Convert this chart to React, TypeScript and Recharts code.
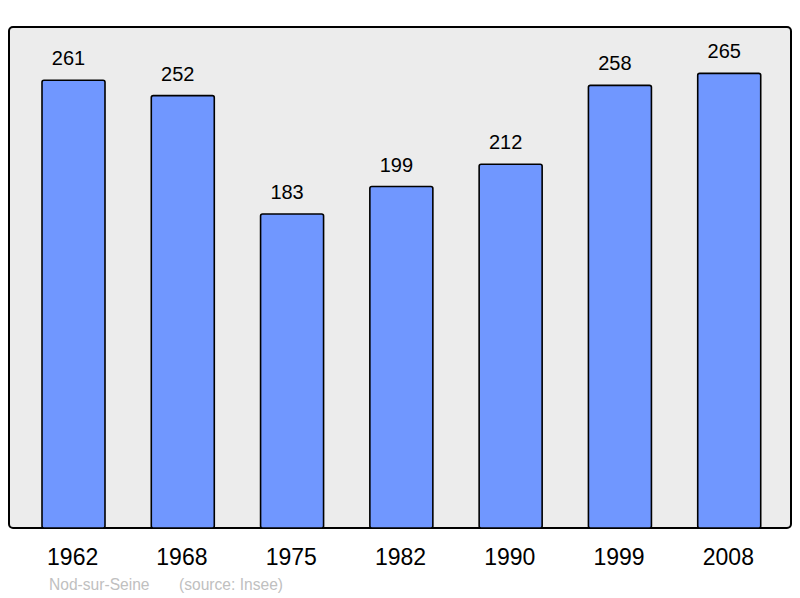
import { Bar, BarChart, CartesianGrid, XAxis, YAxis, LabelList } from "recharts";

const years = ["1962", "1968", "1975", "1982", "1990", "1999", "2008"];
const population = [261, 252, 183, 199, 212, 258, 265];
const yMax = 292;

const data = years.map((year, i) => ({ year, population: population[i] }));

const font = "'Liberation Sans', Arial, sans-serif";

const YearTick = (props: any) => {
  const { x, y, payload } = props;
  return (
    <text x={x - 1} y={y + 37} textAnchor="middle" fontSize={23} fontFamily={font} fill="#000">
      {payload.value}
    </text>
  );
};

const ValueLabel = (props: any) => {
  const { x, y, width, value } = props;
  return (
    <text x={x + width / 2 - 5} y={y - 15} textAnchor="middle" fontSize={20} fontFamily={font} fill="#000">
      {value}
    </text>
  );
};

export default function App() {
  return (
    <div style={{ position: "absolute", left: 0, top: 0, width: 800, height: 598, background: "#fff" }}>
      <BarChart
        width={800}
        height={598}
        data={data}
        margin={{ top: 27, right: 9, bottom: 40, left: 9 }}
      >
        <CartesianGrid horizontal={false} vertical={false} fill="#ececec" fillOpacity={1} />
        <XAxis
          dataKey="year"
          height={30}
          axisLine={false}
          tickLine={false}
          tickSize={0}
          tickMargin={0}
          padding={{ left: 10, right: 7 }}
          tick={<YearTick />}
          interval={0}
        />
        <YAxis hide domain={[0, yMax]} allowDataOverflow />
        <Bar
          dataKey="population"
          fill="#7097ff"
          stroke="#000"
          strokeWidth={1.6}
          barSize={63}
          radius={2}
          isAnimationActive={false}
        >
          <LabelList dataKey="population" content={<ValueLabel />} />
        </Bar>
        <rect x={9} y={27} width={782} height={501} rx={4} ry={4} fill="none" stroke="#000" strokeWidth={2} />
        <text x={49} y={590} fontSize={15.6} fontFamily={font} fill="#c0c0c0">
          Nod-sur-Seine
        </text>
        <text x={179} y={590} fontSize={15.6} fontFamily={font} fill="#c0c0c0">
          (source: Insee)
        </text>
      </BarChart>
    </div>
  );
}
